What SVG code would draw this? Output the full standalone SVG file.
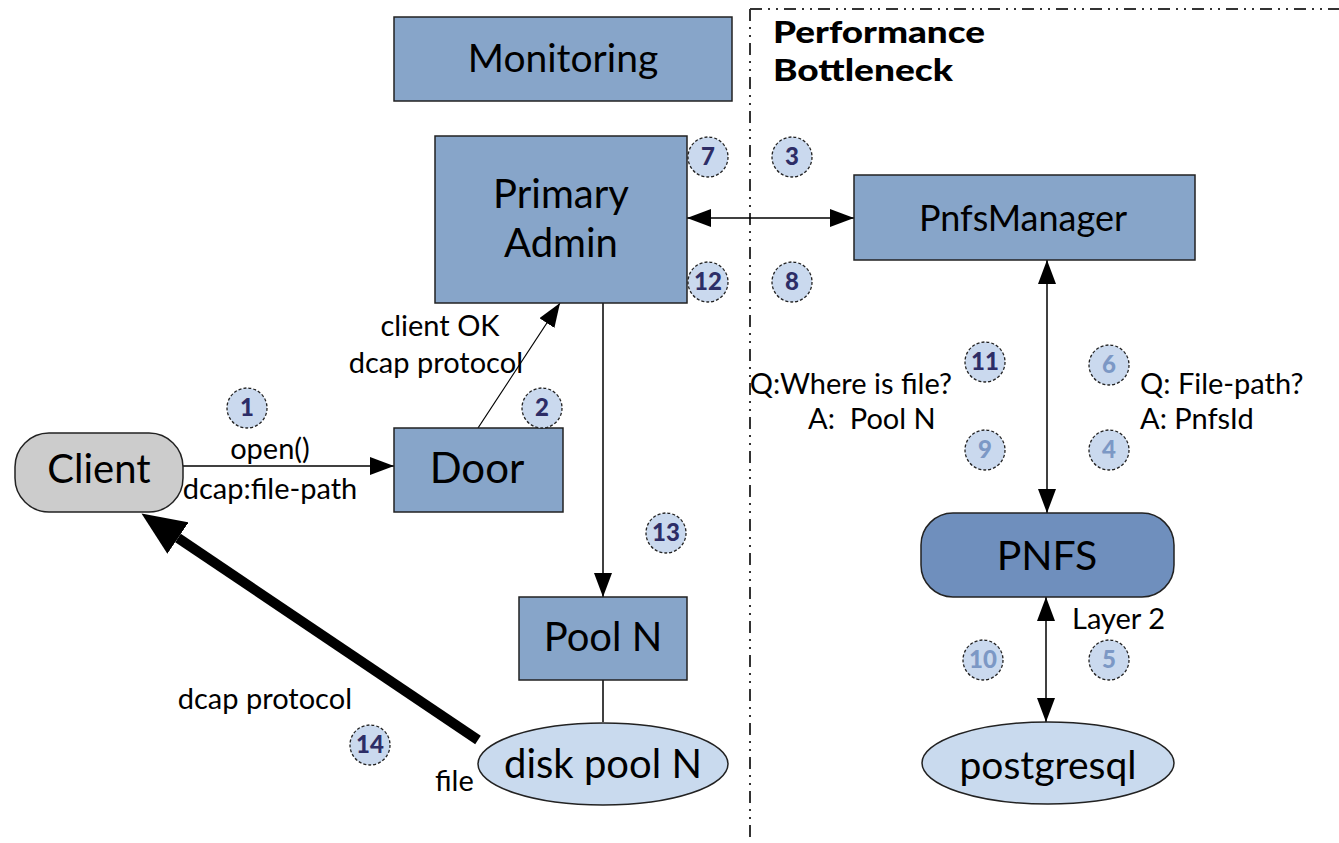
<svg xmlns="http://www.w3.org/2000/svg" width="1339" height="843" viewBox="0 0 1339 843">
<style>
.box{fill:#87a5c9;stroke:#222;stroke-width:1.5}
.pnfs{fill:#6f8fbd;stroke:#222;stroke-width:1.5}
.ell{fill:#c9daee;stroke:#222;stroke-width:1.5}
.client{fill:#cccccc;stroke:#222;stroke-width:1.5}
.t{font-family:Lato,"Open Sans","Liberation Sans",sans-serif;fill:#000}
.big{font-size:40px;text-anchor:middle}
.sm{font-size:29px}
.bold{font-weight:900;font-size:30px}
.num circle{fill:#cad9ee;stroke:#222;stroke-width:1.3;stroke-dasharray:3 2}
.num text{font-family:Lato,"Open Sans","Liberation Sans",sans-serif;font-weight:900;font-size:24px;text-anchor:middle;fill:#2d2d66}
.num.light text{fill:#7c98c5}
.sep{stroke:#333;stroke-width:2;stroke-dasharray:12 6 2 6 2 6;fill:none}
.c{stroke:#000;stroke-width:1.5;fill:none}
</style>
<defs>
<marker id="arr" viewBox="0 0 24 18" refX="24" refY="9" markerWidth="24" markerHeight="18" markerUnits="userSpaceOnUse" orient="auto-start-reverse">
<path d="M0,0 L24,9 L0,18 z" fill="#000"/>
</marker>
<marker id="thick" viewBox="0 0 44 38" refX="0" refY="19" markerWidth="44" markerHeight="38" markerUnits="userSpaceOnUse" orient="auto">
<path d="M0,0 L44,19 L0,38 z" fill="#000"/>
</marker>
</defs>
<rect width="1339" height="843" fill="#fff"/>

<g id="separator">
<line class="sep" x1="750" y1="9" x2="1339" y2="9"/>
<line class="sep" x1="750" y1="9" x2="750" y2="843"/>
</g>

<g id="connectors">
<line class="c" x1="183" y1="466" x2="394" y2="466" marker-end="url(#arr)"/>
<line class="c" x1="478" y1="428" x2="560" y2="303" marker-end="url(#arr)" style="stroke-width:1.2"/>
<line class="c" x1="687" y1="218" x2="854" y2="218" marker-start="url(#arr)" marker-end="url(#arr)"/>
<line class="c" x1="1047" y1="260" x2="1047" y2="513" marker-start="url(#arr)" marker-end="url(#arr)"/>
<line class="c" x1="1046" y1="597" x2="1046" y2="722" marker-start="url(#arr)" marker-end="url(#arr)"/>
<line class="c" x1="603" y1="303" x2="603" y2="597" marker-end="url(#arr)"/>
<line class="c" x1="603" y1="680" x2="603" y2="722"/>
<line x1="478" y1="740" x2="178" y2="538" stroke="#000" stroke-width="10" marker-end="url(#thick)"/>
</g>

<g id="monitoring">
<rect class="box" x="394" y="17" width="338" height="84"/>
<text class="t big" x="563" y="72" style="font-size:39px">Monitoring</text>
</g>
<g id="primary-admin">
<rect class="box" x="435" y="136" width="252" height="167"/>
<text class="t big" x="561" y="208">Primary</text>
<text class="t big" x="561" y="257">Admin</text>
</g>
<g id="pnfsmanager">
<rect class="box" x="854" y="175" width="341" height="85"/>
<text class="t big" x="1023" y="231" style="font-size:36px">PnfsManager</text>
</g>
<g id="pnfs">
<rect class="pnfs" x="921" y="513" width="253" height="84" rx="32"/>
<text class="t big" x="1047" y="570" style="font-size:41px">PNFS</text>
</g>
<g id="postgresql">
<ellipse class="ell" cx="1048" cy="763" rx="126" ry="41"/>
<text class="t big" x="1048" y="779" style="font-size:39px">postgresql</text>
</g>
<g id="client">
<rect class="client" x="15" y="433" width="168" height="79" rx="34"/>
<text class="t big" x="99" y="483">Client</text>
</g>
<g id="door">
<rect class="box" x="394" y="428" width="169" height="84"/>
<text class="t big" x="477" y="483" style="font-size:42px">Door</text>
</g>
<g id="pool-n">
<rect class="box" x="519" y="597" width="168" height="83"/>
<text class="t big" x="603" y="651">Pool N</text>
</g>
<g id="disk-pool-n">
<ellipse class="ell" cx="603" cy="764" rx="125" ry="41"/>
<text class="t big" x="603" y="778">disk pool N</text>
</g>

<g id="labels">
<text class="t bold" x="773" y="43" textLength="212" lengthAdjust="spacingAndGlyphs">Performance</text>
<text class="t bold" x="773" y="81" textLength="180" lengthAdjust="spacingAndGlyphs">Bottleneck</text>
<text class="t sm" x="440" y="336" text-anchor="middle">client OK</text>
<text class="t sm" x="523" y="373" text-anchor="end">dcap protocol</text>
<text class="t sm" x="270" y="459" text-anchor="middle">open()</text>
<text class="t sm" x="270" y="499" text-anchor="middle">dcap:file-path</text>
<text class="t sm" x="952" y="394" text-anchor="end">Q:Where is file?</text>
<text class="t sm" x="808" y="429" xml:space="preserve">A:  Pool N</text>
<text class="t sm" x="1140" y="394">Q: File-path?</text>
<text class="t sm" x="1140" y="429">A: PnfsId</text>
<text class="t sm" x="1072" y="629">Layer 2</text>
<text class="t sm" x="352" y="709" text-anchor="end">dcap protocol</text>
<text class="t sm" x="435" y="791">file</text>
</g>

<g id="steps">
<g class="num"><circle cx="247" cy="408" r="20"/><text x="247" y="416">1</text></g>
<g class="num"><circle cx="542" cy="408" r="20"/><text x="542" y="416">2</text></g>
<g class="num"><circle cx="792" cy="157" r="20"/><text x="792" y="165">3</text></g>
<g class="num light"><circle cx="1109" cy="450" r="20"/><text x="1109" y="458">4</text></g>
<g class="num light"><circle cx="1109" cy="660" r="20"/><text x="1109" y="668">5</text></g>
<g class="num light"><circle cx="1109" cy="365" r="20"/><text x="1109" y="373">6</text></g>
<g class="num"><circle cx="708" cy="157" r="20"/><text x="708" y="165">7</text></g>
<g class="num"><circle cx="792" cy="282" r="20"/><text x="792" y="290">8</text></g>
<g class="num light"><circle cx="985" cy="450" r="20"/><text x="985" y="458">9</text></g>
<g class="num light"><circle cx="983" cy="660" r="20"/><text x="983" y="668">10</text></g>
<g class="num"><circle cx="985" cy="362" r="20"/><text x="985" y="370">11</text></g>
<g class="num"><circle cx="708" cy="282" r="20"/><text x="708" y="290">12</text></g>
<g class="num"><circle cx="666" cy="533" r="20"/><text x="666" y="541">13</text></g>
<g class="num"><circle cx="370" cy="745" r="20"/><text x="370" y="753">14</text></g>
</g>
</svg>
